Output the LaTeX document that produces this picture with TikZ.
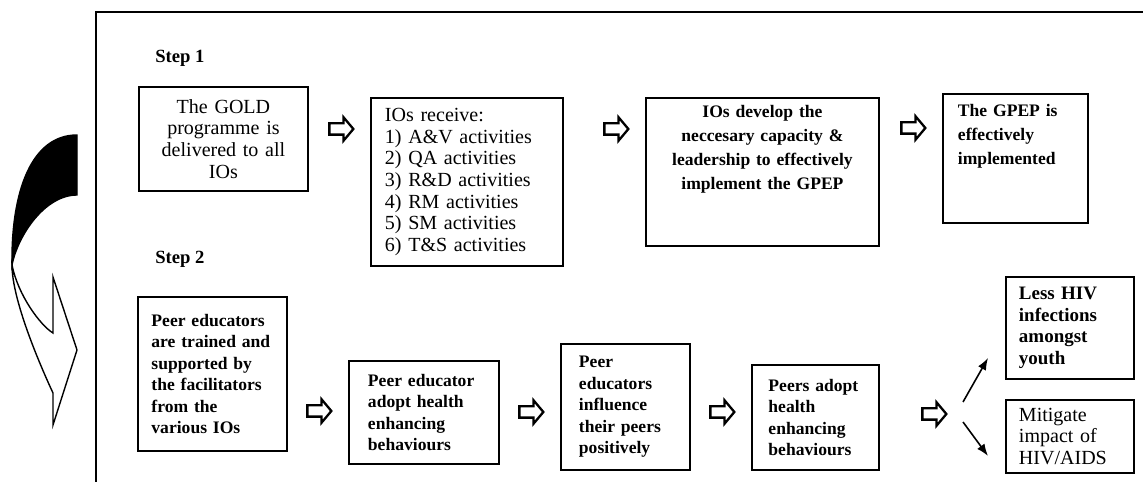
\documentclass[tikz,border=0pt]{standalone}
\usepackage{fontspec}
\setmainfont{Liberation Serif}
\usetikzlibrary{shapes.arrows}
\usetikzlibrary{arrows.meta}
\tikzstyle{sbox}=	[draw, line width=1.1pt, anchor=north west, inner ysep=0.1cm]
\tikzstyle{treg}=	[font=\fontsize{11.4}{12.3}\selectfont]
\tikzstyle{tbold}=	[font=\fontsize{10}{12.2}\selectfont\bfseries]
\tikzstyle{ttop}=	[font=\fontsize{10}{13.6}\selectfont\bfseries, text height=0.25cm]
\tikzstyle{sname}=	[font=\fontsize{10.6}{12}\selectfont\bfseries, anchor=base west, inner sep=0pt]
\tikzstyle{barrow}=	[single arrow, draw, line width=1.3pt, inner sep=0pt, text height=0.09cm, text depth=0.09cm, minimum height=0.48cm, single arrow head extend=0.12cm, single arrow tip angle=100]
\tikzstyle{sline}=	[line width=0.9pt, -{Latex[length=0.24cm, width=0.18cm]}]
\tikzstyle{frame}=	[line width=0.8pt]

\begin{document}
\begin{tikzpicture}[x=0.02cm, y=-0.02cm]
	\useasboundingbox (0,0) rectangle (1143,482);

	% frame
	\draw[frame] (96,482) -- (96,12) -- (1143,12);

	% curved arrow on the left
	\draw[line width=0.8pt, fill=black] (77,135) .. controls (32,135) and (11,190) .. (12,265)
		.. controls (18,235) and (45,195) .. (77,195) -- cycle;
	\draw[line width=0.8pt, fill=white] (12,265) .. controls (12,300) and (40,365) .. (53,393)
		-- (53,425) -- (77,350) -- (53,277) -- (53,333)
		.. controls (40,325) and (18,295) .. (12,265) -- cycle;

	%%% step 1
	\node[sname] (s1) at (155,63) {Step 1};

	% boxes
	\node[sbox, treg, align=center, inner xsep=0.1cm, text width=3.18cm, minimum height=2.08cm]
		(b1) at (138,86) {The GOLD\\programme is\\delivered to all\\IOs};
	\node[sbox, treg, align=left, inner xsep=0.28cm, text width=3.28cm, minimum height=3.36cm]
		(b2) at (370,97) {IOs receive:\\1) A\&V activities\\2) QA activities\\3) R\&D activities\\4) RM activities\\5) SM activities\\6) T\&S activities};
	\node[sbox, ttop, align=center, inner xsep=0.1cm, inner ysep=0.15cm, text width=4.46cm, text depth=2.41cm]
		(b3) at (645,97) {IOs develop the\\neccesary capacity \&\\leadership to effectively\\implement the GPEP};
	\node[sbox, ttop, align=left, inner xsep=0.3cm, inner ysep=0.2cm, text width=2.3cm, text depth=1.93cm]
		(b4) at (942,93) {The GPEP is\\effectively\\implemented};

	% arrows
	\node[barrow] (a1) at (339,129) {};
	\node[barrow] (a2) at (614,129) {};
	\node[barrow] (a3) at (911,128) {};

	%%% step 2
	\node[sname] (s2) at (155,264) {Step 2};

	% boxes
	\node[sbox, tbold, align=left, inner xsep=0.27cm, text width=2.44cm, minimum height=3.08cm]
		(c1) at (137,296) {Peer educators\\are trained and\\supported by\\the facilitators\\from the\\various IOs};
	\node[sbox, tbold, align=left, inner xsep=0.38cm, text width=2.24cm, minimum height=2.06cm]
		(c2) at (348,360) {Peer educator\\adopt health\\enhancing\\behaviours};
	\node[sbox, tbold, align=left, inner xsep=0.36cm, text width=1.86cm, minimum height=2.52cm]
		(c3) at (560,343) {Peer\\educators\\influence\\their peers\\positively};
	\node[sbox, tbold, align=left, inner xsep=0.33cm, text width=1.88cm, minimum height=2.1cm]
		(c4) at (751,364) {Peers adopt\\health\\enhancing\\behaviours};
	\node[sbox, font=\fontsize{10.8}{12.3}\selectfont\bfseries, align=left, inner xsep=0.26cm, text width=2.04cm, minimum height=2.04cm]
		(d1) at (1005,276) {Less HIV\\infections\\amongst\\youth};
	\node[sbox, treg, align=left, inner xsep=0.26cm, text width=2.04cm, minimum height=1.46cm]
		(d2) at (1005,399) {Mitigate\\impact of\\HIV/AIDS};

	% arrows
	\node[barrow] (a4) at (317,411) {};
	\node[barrow] (a5) at (529,412) {};
	\node[barrow] (a6) at (720,412) {};
	\node[barrow] (a7) at (932,414) {};

	% split
	\coordinate (u0) at (963,402);
	\coordinate (u1) at (988,358);
	\coordinate (w0) at (963,422);
	\coordinate (w1) at (988,456);
	\draw[sline] (u0) -- (u1);
	\draw[sline] (w0) -- (w1);

\end{tikzpicture}
\end{document}
